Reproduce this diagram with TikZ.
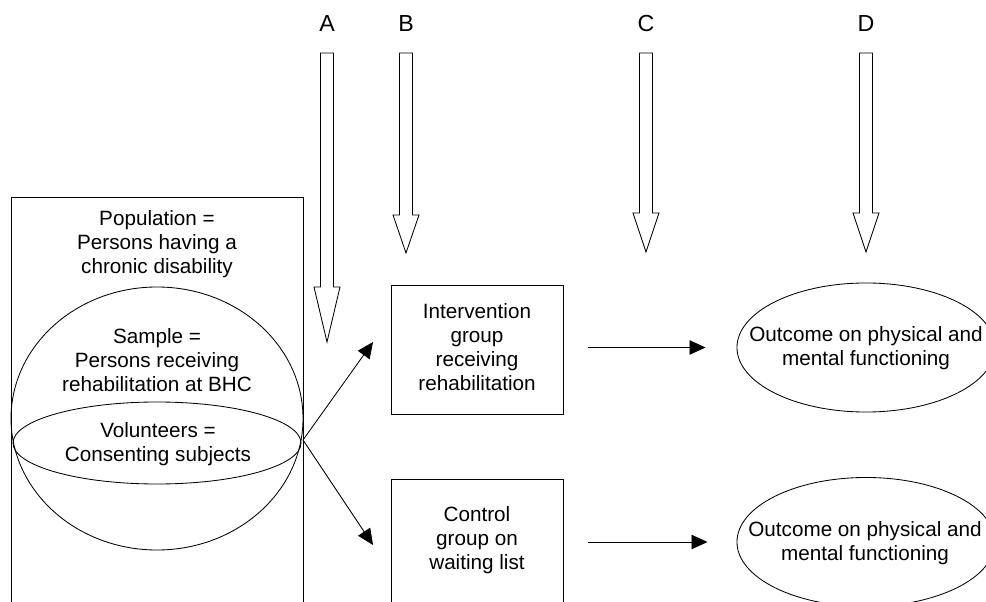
\documentclass[tikz,border=0pt]{standalone}
\usepackage{fontspec}
\setmainfont{Liberation Sans}
\usetikzlibrary{positioning,shapes.geometric,arrows.meta}
\tikzset{
  txt/.style={align=center,font=\fontsize{14.7}{17.1}\selectfont,inner sep=0pt},
  grpbox/.style={draw,minimum width=4.3cm,minimum height=3.225cm},
  outc/.style={draw,ellipse,inner sep=0pt,minimum width=6.45cm,minimum height=3.225cm},
  conn/.style={-{Triangle[length=0.4cm,width=0.36cm]}}
}
\begin{document}
\begin{tikzpicture}[x=0.025cm,y=-0.025cm,line width=0.6pt]
\clip(0,0)rectangle(986,602);
% population, sample, volunteers
\draw(11,197)rectangle(303,640);
\draw(157,418.5)ellipse(146 and 131.5);
\draw(157,443)ellipse(144 and 41);
\node[txt](pop)at(157,244){Population =\\Persons having a\\chronic disability};
\node[txt](smp)at(157,360){Sample =\\Persons receiving\\rehabilitation at BHC};
\node[txt](vol)at(158,444){Volunteers =\\Consenting subjects};
% hollow arrows A--D
\foreach \x/\hs/\tip/\lab in{327/287/342/A,406/215/253/B,646/213/252/C,866/213/252/D}
{\draw(\x-6.5,53)--(\x+6.5,53)--(\x+6.5,\hs)--(\x+13,\hs)--(\x,\tip)--(\x-13,\hs)--(\x-6.5,\hs)--cycle;
\node[txt,font=\fontsize{16.5}{19}\selectfont](lab\lab)at(\x,24){\lab};}
% groups
\node[grpbox](intv)at(477,349.5){};
\node[txt](intvtxt)at(477,347){Intervention\\group\\receiving\\rehabilitation};
\node[grpbox,anchor=north,minimum height=4cm](ctrl)at(477,479){};
\node[txt](ctrltxt)at(477,540){Control\\group on\\waiting list};
% outcomes
\node[outc](out1)at(866,347.5){};
\node[txt](out1txt)at(866,348.5){Outcome on physical and\\mental functioning};
\node[outc](out2)at(866,542){};
\node[txt](out2txt)at(865,543){Outcome on physical and\\mental functioning};
% connectors
\coordinate(J)at(303,440);
\coordinate(tip1)at(373,342);
\coordinate(tip2)at(373,545);
\draw[conn](J)--(tip1);
\draw[conn](J)--(tip2);
\draw[conn,shorten <=0.625cm,shorten >=0.775cm](intv.east|-out1.west)--(out1.west);
\draw[conn,shorten <=0.625cm,shorten >=0.725cm](ctrl.east|-out2.west)--(out2.west);
\end{tikzpicture}
\end{document}
